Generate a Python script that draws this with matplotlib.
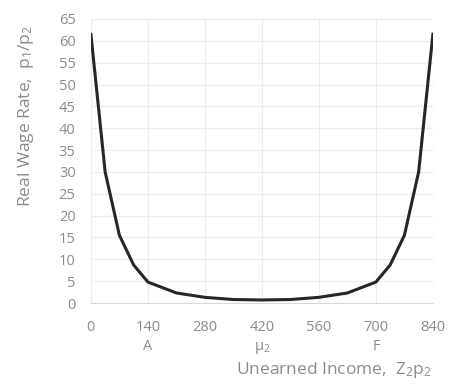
import numpy as np
import matplotlib.pyplot as plt

plt.rcParams['font.family'] = ['Open Sans', 'DejaVu Sans']

# curve
income = [0, 35, 70, 105, 140, 210, 280, 350, 420, 490, 560, 630, 700, 735, 770, 805, 840]
wage = [61.5, 30, 15.5, 8.7, 4.8, 2.3, 1.3, 0.8, 0.7, 0.8, 1.3, 2.3, 4.8, 8.7, 15.5, 30, 61.5]

xticks = [0, 140, 280, 420, 560, 700, 840]
xticklabels = ['0', '140\nA', '280', '420\n$\\mathregular{\\mu_2}$', '560', '700\nF', '840']
yticks = list(range(0, 66, 5))

fig = plt.figure(figsize=(4.5, 3.87), dpi=100)
ax = fig.add_axes([0.202, 0.217, 0.76, 0.734])

ax.plot(income, wage, color='#262626', linewidth=2.2)

ax.set_xlim(0, 840)
ax.set_ylim(0, 65)
ax.set_xticks(xticks)
ax.set_xticklabels(xticklabels)
ax.set_yticks(yticks)
ax.grid(True, color='#ececec', linewidth=0.8)
ax.set_axisbelow(True)
for s in ax.spines.values():
    s.set_visible(False)
ax.spines['bottom'].set_visible(True)
ax.spines['bottom'].set_color('#d9d9d9')
ax.tick_params(length=0, colors='#8c8c8c', labelsize=10.5)
ax.tick_params(axis='y', pad=11)
ax.tick_params(axis='x', pad=12)
for lbl in ax.get_xticklabels():
    lbl.set_verticalalignment('top')
    lbl.set_linespacing(1.35)

fig.text(0.525, 0.044, 'Unearned Income,  $\\mathregular{Z_2 p_2}$', color='#8c8c8c', fontsize=12.5,
         ha='left', va='center')
fig.text(0.058, 0.70, 'Real Wage Rate,  $\\mathregular{p_1/p_2}$', color='#8c8c8c', fontsize=12.5,
         rotation=90, ha='center', va='center')

fig.savefig('out.png', dpi=100)
